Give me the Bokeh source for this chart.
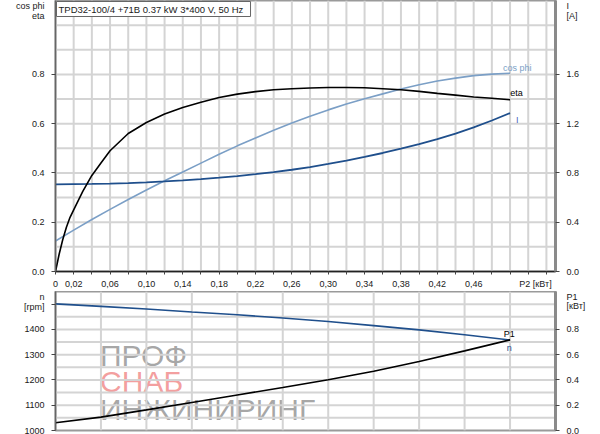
from bokeh.plotting import figure
from bokeh.models import (Range1d, LinearAxis, FixedTicker, CustomJSTickFormatter, Label,
                          Span)
from bokeh.layouts import column
from bokeh.embed import file_html
from bokeh.resources import INLINE

FONT = "Liberation Sans"

# ---------------- data ----------------
title_text = "TPD32-100/4 +71B  0.37 kW  3*400 V, 50 Hz"

p2_eta = [0.0, 0.004, 0.008, 0.012, 0.016, 0.02, 0.03, 0.04, 0.05, 0.06, 0.08,
          0.10, 0.12, 0.14, 0.16, 0.18, 0.20, 0.22, 0.24, 0.26, 0.28, 0.30,
          0.32, 0.34, 0.36, 0.38, 0.40, 0.42, 0.44, 0.46, 0.48, 0.50]
eta = [0.0, 0.07, 0.13, 0.18, 0.22, 0.25, 0.325, 0.39, 0.44, 0.49, 0.56,
       0.605, 0.639, 0.666, 0.687, 0.706, 0.72, 0.73, 0.738, 0.742, 0.745, 0.747,
       0.747, 0.746, 0.742, 0.738, 0.731, 0.723, 0.716, 0.708, 0.703, 0.697]

p2 = [0.00, 0.02, 0.04, 0.06, 0.08, 0.10, 0.12, 0.14, 0.16, 0.18, 0.20, 0.22, 0.24,
      0.26, 0.28, 0.30, 0.32, 0.34, 0.36, 0.38, 0.40, 0.42, 0.44, 0.46, 0.48, 0.50]
cos_phi = [0.124, 0.168, 0.211, 0.252, 0.292, 0.331, 0.368, 0.404, 0.440, 0.476,
           0.510, 0.542, 0.573, 0.603, 0.630, 0.656, 0.680, 0.701, 0.721, 0.741,
           0.758, 0.773, 0.785, 0.795, 0.801, 0.805]
current = [0.707, 0.709, 0.711, 0.714, 0.718, 0.723, 0.731, 0.740, 0.750, 0.762,
           0.775, 0.790, 0.807, 0.826, 0.848, 0.873, 0.900, 0.930, 0.962, 0.997,
           1.034, 1.074, 1.120, 1.170, 1.226, 1.286]

p2_b = [0.00, 0.05, 0.10, 0.15, 0.20, 0.25, 0.30, 0.35, 0.40, 0.45, 0.50]
speed = [1501, 1491, 1481, 1469, 1458, 1445, 1431, 1415, 1398, 1379, 1358]
p1 = [0.061, 0.106, 0.163, 0.222, 0.281, 0.340, 0.402, 0.469, 0.546, 0.630, 0.717]

# tick marks
x_marks = [0.00, 0.02, 0.04, 0.06, 0.08, 0.10, 0.12, 0.14, 0.16, 0.18, 0.20, 0.22, 0.24,
           0.26, 0.28, 0.30, 0.32, 0.34, 0.36, 0.38, 0.40, 0.42, 0.44, 0.46, 0.48, 0.50,
           0.52, 0.54]
eta_marks = [0.0, 0.2, 0.4, 0.6, 0.8]
i_marks = [0.0, 0.4, 0.8, 1.2, 1.6]
n_marks = [1000, 1100, 1200, 1300, 1400, 1500]
p1_marks = [0.0, 0.2, 0.4, 0.6, 0.8]

# tick labels (value -> text); the unit titles sit on the same axes
x_label_vals = [0.00, 0.02, 0.06, 0.10, 0.14, 0.18, 0.22, 0.26, 0.30, 0.34, 0.38, 0.42,
                0.46, 0.528]
x_label_txts = ["0", "0,02", "0,06", "0,10", "0,14", "0,18", "0,22", "0,26", "0,30",
                "0,34", "0,38", "0,42", "0,46", "P2 [кВт]"]
eta_label_vals = [0.0, 0.2, 0.4, 0.6, 0.8, 1.038, 1.078]
eta_label_txts = ["0.0", "0.2", "0.4", "0.6", "0.8", "eta", "cos phi"]
i_label_vals = [0.0, 0.4, 0.8, 1.2, 1.6, 2.074, 2.155]
i_label_txts = ["0.0", "0.4", "0.8", "1.2", "1.6", "[A]", "I"]
n_label_vals = [1000, 1100, 1200, 1300, 1400, 1488, 1528]
n_label_txts = ["1000", "1100", "1200", "1300", "1400", "[rpm]", "n"]
p1_label_vals = [0.0, 0.2, 0.4, 0.6, 0.8, 0.984, 1.0625]
p1_label_txts = ["0.0", "0.2", "0.4", "0.6", "0.8", "[кВт]", "P1"]

# grid spacing (style)
top_vgrid = x_marks
top_hgrid = [0.1, 0.2, 0.3, 0.4, 0.5, 0.6, 0.7, 0.8, 0.9, 1.0]
bot_vgrid = [0.05, 0.10, 0.15, 0.20, 0.25, 0.30, 0.35, 0.40, 0.45, 0.50]
bot_hgrid = [1050, 1100, 1150, 1200, 1250, 1300, 1350, 1400, 1450, 1500]

# ---------------- colours ----------------
C_ETA = "#000000"
C_COS = "#7b9fc6"
C_I = "#1f4f8c"
C_N = "#1f4f8c"
C_P1 = "#000000"
GRID = "#d4d4d4"


def list_formatter(vals, labels):
    return CustomJSTickFormatter(
        args=dict(tvals=vals, tlabels=labels),
        code="for (let i = 0; i < tvals.length; i++) {"
             " if (Math.abs(tvals[i] - tick) < 1e-6) return tlabels[i]; } return '';")


def setup_axis(ax, vals, txts, marks, line_color, line_width, tick_len=4, standoff=3):
    ax.ticker = FixedTicker(ticks=vals, minor_ticks=marks)
    ax.formatter = list_formatter(vals, txts)
    ax.axis_line_color = line_color
    ax.axis_line_width = line_width
    ax.major_tick_line_color = None
    ax.major_tick_out = 0
    ax.major_tick_in = 0
    ax.minor_tick_line_color = "#444444"
    ax.minor_tick_out = tick_len
    ax.minor_tick_in = 0
    ax.major_label_text_font = FONT
    ax.major_label_text_font_size = "9px"
    ax.major_label_text_color = "#1a1a1a"
    ax.major_label_standoff = tick_len + standoff


def lbl(fig, x, y, s, color="#1a1a1a", size="9px", align="center", baseline="middle",
        **kw):
    lab = Label(x=x, y=y, text=s, text_color=color, text_font=FONT, text_font_size=size,
                text_align=align, text_baseline=baseline, **kw)
    fig.add_layout(lab)
    return lab


def draw_grid(fig, vticks, hticks):
    fig.xgrid.visible = False
    fig.ygrid.visible = False
    for v in vticks:
        fig.add_layout(Span(location=v, dimension="height", line_color=GRID,
                            line_width=2, level="underlay"))
    for h in hticks:
        fig.add_layout(Span(location=h, dimension="width", line_color=GRID,
                            line_width=2, level="underlay"))


# ---------------- top chart ----------------
top = figure(frame_width=500, frame_height=271, x_range=Range1d(0, 0.55),
             y_range=Range1d(0, 1.1), output_backend="svg", toolbar_location=None,
             min_border_left=55, min_border_right=45, min_border_top=0,
             min_border_bottom=16, outline_line_color="#9a9a9a", outline_line_width=2)
top.extra_y_ranges = {"I": Range1d(0, 2.2)}

setup_axis(top.xaxis[0], x_label_vals, x_label_txts, x_marks, "#222222", 1.5,
           tick_len=3, standoff=1)
setup_axis(top.yaxis[0], eta_label_vals, eta_label_txts, eta_marks, "#666666", 1.5)
ax_i = LinearAxis(y_range_name="I")
top.add_layout(ax_i, "right")
setup_axis(ax_i, i_label_vals, i_label_txts, i_marks, "#8a8a8a", 3)
draw_grid(top, top_vgrid, top_hgrid)

top.line(p2, cos_phi, line_color=C_COS, line_width=1.6)
top.line(p2, current, line_color=C_I, line_width=1.8, y_range_name="I")
top.line(p2_eta, eta, line_color=C_ETA, line_width=1.6)

lbl(top, 0.508, 0.828, "cos phi", color=C_COS)
lbl(top, 0.507, 0.723, "eta", color=C_ETA)
lbl(top, 0.508, 0.613, "I", color="#4a5fc0")

lbl(top, 0.0, 1.1, title_text, size="9.5px", align="left", baseline="top",
    x_offset=1, y_offset=-1, background_fill_color="white",
    border_line_color="#666666", border_line_width=1, padding=2)

# ---------------- bottom chart ----------------
bot = figure(frame_width=500, frame_height=139, x_range=top.x_range,
             y_range=Range1d(1000, 1550), output_backend="svg",
             toolbar_location=None, min_border_left=55, min_border_right=45,
             min_border_top=0, min_border_bottom=8, outline_line_color="#9a9a9a",
             outline_line_width=2)
bot.extra_y_ranges = {"P1": Range1d(0, 1.1)}

# hidden x axis (no marks, no labels)
bot.xaxis.ticker = FixedTicker(ticks=bot_vgrid)
bot.xaxis.formatter = CustomJSTickFormatter(code="return '';")
bot.xaxis.axis_line_color = None
bot.xaxis.major_tick_line_color = None
bot.xaxis.minor_tick_line_color = None
bot.xaxis.major_label_standoff = 0
bot.xaxis.major_tick_out = 0

setup_axis(bot.yaxis[0], n_label_vals, n_label_txts, n_marks, "#666666", 1.5)
ax_p1 = LinearAxis(y_range_name="P1")
bot.add_layout(ax_p1, "right")
setup_axis(ax_p1, p1_label_vals, p1_label_txts, p1_marks, "#8a8a8a", 3)

# watermark (under grid and curves)
WM_GRAY = "#808080"
WM_RED = "#e84040"
wm = dict(align="left", baseline="alphabetic", level="underlay")
lbl(bot, 0.049, 1297, "ПРОФ", color=WM_GRAY, size="30px", text_alpha=0.7, **wm)
lbl(bot, 0.049, 1194, "СНАБ", color=WM_RED, size="30px", text_alpha=0.5, **wm)
lbl(bot, 0.049, 1083, "ИНЖИНИРИНГ", color=WM_GRAY, size="30px", text_alpha=0.7, **wm)

draw_grid(bot, bot_vgrid, bot_hgrid)

bot.line(p2_b, speed, line_color=C_N, line_width=1.6)
bot.line(p2_b, p1, line_color=C_P1, line_width=1.6, y_range_name="P1")

lbl(bot, 0.499, 1381, "P1", color=C_P1)
lbl(bot, 0.499, 1325, "n", color=C_N)

layout = column(top, bot)
open("out.html", "w").write(file_html(layout, INLINE))
